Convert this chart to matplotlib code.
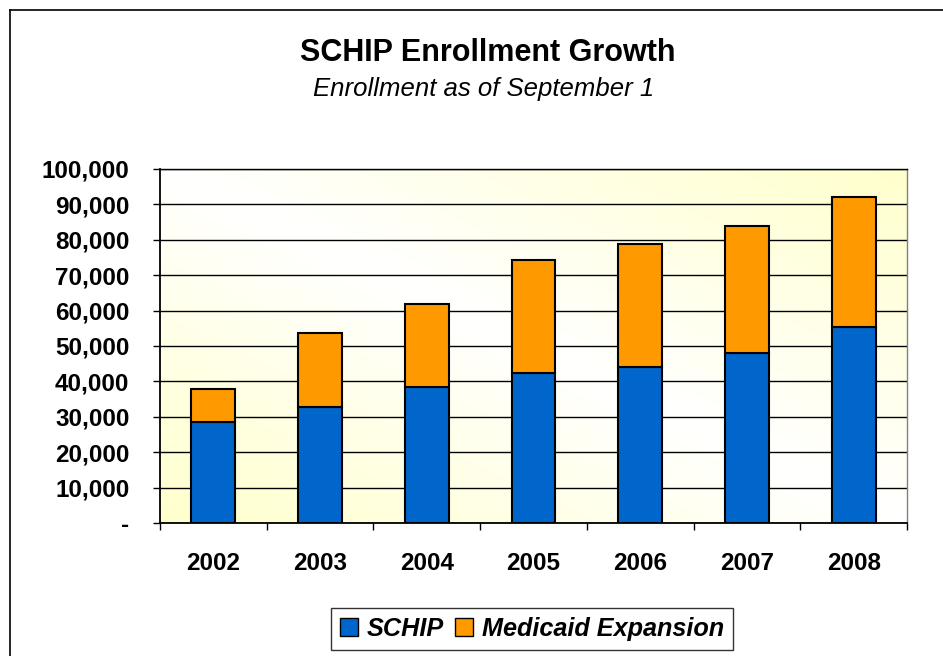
import numpy as np
import matplotlib
matplotlib.use("Agg")
import matplotlib.pyplot as plt
from matplotlib.patches import Patch
from matplotlib.ticker import FixedLocator, FuncFormatter

years = ["2002", "2003", "2004", "2005", "2006", "2007", "2008"]
schip = [28400, 32900, 38500, 42400, 44100, 48100, 55300]
medicaid_total = [37900, 53600, 62000, 74400, 78700, 83800, 92200]
medicaid = [t - s for t, s in zip(medicaid_total, schip)]
series_names = ["SCHIP", "Medicaid Expansion"]
colors = ["#0066CC", "#FF9900"]

plt.rcParams['font.family'] = ['Liberation Sans', 'DejaVu Sans']

fig = plt.figure(figsize=(9.43, 6.56), dpi=100)
fig.patch.set_facecolor("white")

# outer frame (left and top edges visible)
fig.add_artist(plt.Line2D([9.5/943, 9.5/943], [0, 1 - 10/656], transform=fig.transFigure, color="black", lw=1.2))
fig.add_artist(plt.Line2D([9.5/943, 1], [1 - 10/656, 1 - 10/656], transform=fig.transFigure, color="black", lw=1.2))

ax = fig.add_axes([160/943, 1 - 523/656, (907 - 160)/943, (523 - 169)/656])

# gradient background
n = 200
xx, yy = np.meshgrid(np.linspace(0, 1, n), np.linspace(0, 1, n))
t = np.clip(np.abs(xx + yy - 1.0), 0, 1)
c_white = np.array([1.0, 1.0, 1.0])
c_yel = np.array([1.0, 1.0, 0.80])
img = c_white[None, None, :] * (1 - t[..., None]) + c_yel[None, None, :] * t[..., None]
ax.imshow(img, extent=[0, 1, 0, 1], origin="lower", transform=ax.transAxes, aspect="auto", zorder=0)

x = np.arange(len(years))
w = 0.41
ax.bar(x, schip, w, color=colors[0], edgecolor="black", linewidth=1.5, zorder=3)
ax.bar(x, medicaid, w, bottom=schip, color=colors[1], edgecolor="black", linewidth=1.5, zorder=3)

ax.set_xlim(-0.5, len(years) - 0.5)
ax.set_ylim(0, 100000)
ax.yaxis.set_major_locator(FixedLocator(np.arange(0, 100001, 10000)))
ax.yaxis.set_major_formatter(FuncFormatter(lambda v, p: "-" if v == 0 else f"{int(v):,}"))
ax.grid(axis="y", color="black", linewidth=1.0, zorder=1)
ax.set_axisbelow(True)

ax.set_xticks(x)
ax.set_xticklabels(years)
ax.set_xticks(np.arange(-0.5, len(years)), minor=True)
ax.tick_params(axis="x", which="major", length=0, pad=21)
ax.tick_params(axis="x", which="minor", length=5, width=1, color="black", direction="out")
ax.tick_params(axis="y", length=5, width=1, color="black", pad=17)
for lab in ax.get_xticklabels() + ax.get_yticklabels():
    lab.set_fontsize(17.5)
    lab.set_fontweight("bold")

for s in ["left", "bottom"]:
    ax.spines[s].set_color("black")
    ax.spines[s].set_linewidth(1.3)
ax.spines["top"].set_color("black")
ax.spines["top"].set_linewidth(1.0)
ax.spines["right"].set_color("#808080")
ax.spines["right"].set_linewidth(1.0)

fig.text(488/943, 1 - 53/656, "SCHIP Enrollment Growth", ha="center", va="center",
         fontsize=22, fontweight="bold")
fig.text(484/943, 1 - 89/656, "Enrollment as of September 1", ha="center", va="center",
         fontsize=18.5, fontstyle="italic")

handles = [Patch(facecolor=colors[0], edgecolor="black", linewidth=1.0),
           Patch(facecolor=colors[1], edgecolor="black", linewidth=1.0)]
leg = fig.legend(handles, series_names, loc="center", bbox_to_anchor=(532/943, 1 - 629/656),
                 ncol=2, frameon=True, fancybox=False, handlelength=0.7, handleheight=0.7,
                 handletextpad=0.35, columnspacing=0.45, borderpad=0.35, borderaxespad=0,
                 prop={"size": 18.2, "weight": "bold", "style": "italic"})
leg.get_frame().set_edgecolor("black")
leg.get_frame().set_linewidth(1.0)

fig.savefig("out.png", dpi=100, facecolor="white")
